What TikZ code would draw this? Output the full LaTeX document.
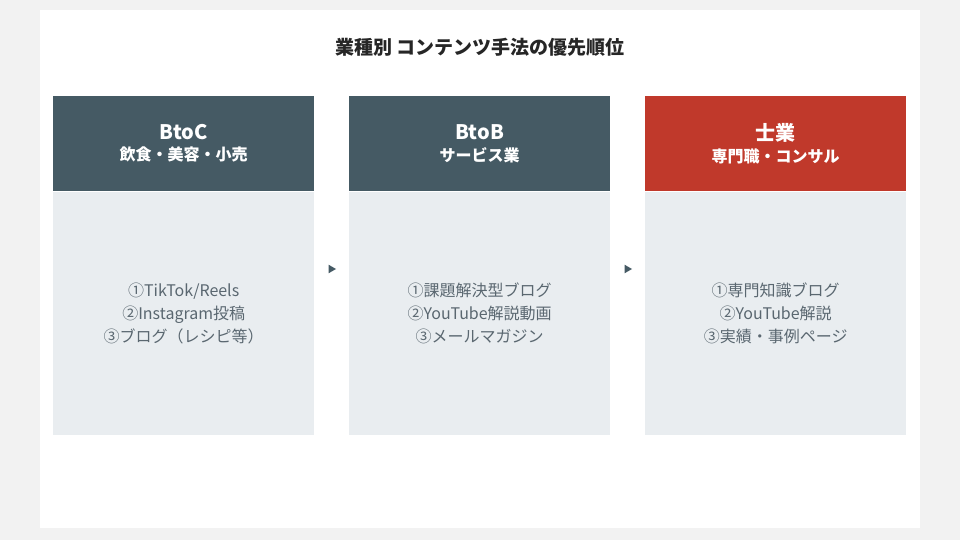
\documentclass[tikz,border=0pt]{standalone}
\usepackage{fontspec}
\setmainfont{Noto Sans CJK JP}
\usetikzlibrary{positioning, shapes.geometric}
\definecolor{slate}{HTML}{455A64}
\definecolor{brick}{HTML}{C0392B}
\definecolor{pale}{HTML}{E9EDF0}
\definecolor{bodytext}{HTML}{5A6770}
\tikzset{
  head/.style={fill=#1, text=white, minimum width=261pt, minimum height=95pt,
    inner sep=0, align=center, font=\bfseries, anchor=north west},
  body/.style={fill=pale, text=bodytext, minimum width=261pt, minimum height=243pt,
    inner sep=0, align=center, font=\fontsize{16pt}{23pt}\selectfont, below=0pt of #1},
  next mark/.style={fill=slate, regular polygon, regular polygon sides=3, shape border rotate=-90,
    minimum size=10pt, inner sep=0}
}
\begin{document}
\begin{tikzpicture}[x=1pt,y=-1pt]
\useasboundingbox[fill=black!5] (0,0) rectangle (960,540);
\fill[white] (40,10) rectangle (920,528);

\node[font=\bfseries\fontsize{19pt}{22pt}\selectfont, text=black!85] (title) at (480,47) {業種別 コンテンツ手法の優先順位};

\node[head=slate] (btoc) at (53,96)
  {{\fontsize{20pt}{24pt}\selectfont BtoC}\\[6pt]{\fontsize{16pt}{20pt}\selectfont 飲食・美容・小売}};
\node[body=btoc] (btoc_list) {①TikTok/Reels\\②Instagram投稿\\③ブログ（レシピ等）};

\node[head=slate] (btob) at (349,96)
  {{\fontsize{20pt}{24pt}\selectfont BtoB}\\[6pt]{\fontsize{16pt}{20pt}\selectfont サービス業}};
\node[body=btob] (btob_list) {①課題解決型ブログ\\②YouTube解説動画\\③メールマガジン};

\node[head=brick] (shigyo) at (645,96)
  {{\fontsize{20pt}{24pt}\selectfont 士業}\\[6pt]{\fontsize{16pt}{20pt}\selectfont 専門職・コンサル}};
\node[body=shigyo] (shigyo_list) {①専門知識ブログ\\②YouTube解説\\③実績・事例ページ};

\node[next mark] (step1) at (331,269) {};
\node[next mark] (step2) at (627,269) {};

\end{tikzpicture}
\end{document}
